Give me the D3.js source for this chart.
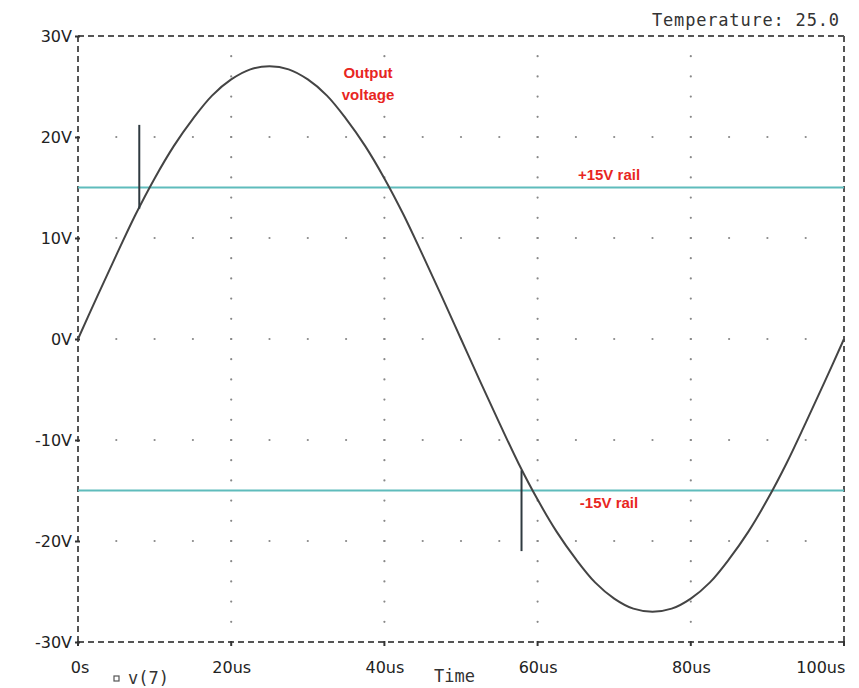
<!DOCTYPE html>
<html><head><meta charset="utf-8">
<script src="https://cdn.jsdelivr.net/npm/d3@7"></script>
<style>body{margin:0;background:#fff;}svg{display:block;}</style>
</head><body>
<svg id="c" width="859" height="688"></svg>
<script>
// Data
const timeUs = [0,2.5,5,7.5,10,12.5,15,17.5,20,22.5,25,27.5,30,32.5,35,37.5,40,42.5,45,47.5,50,52.5,55,57.5,60,62.5,65,67.5,70,72.5,75,77.5,80,82.5,85,87.5,90,92.5,95,97.5,100];
const voltage = [0,4.2,8.3,12.3,15.9,19.1,21.8,24.1,25.7,26.7,27.0,26.7,25.7,24.1,21.8,19.1,15.9,12.3,8.3,4.2,0,-4.2,-8.3,-12.3,-15.9,-19.1,-21.8,-24.1,-25.7,-26.7,-27.0,-26.7,-25.7,-24.1,-21.8,-19.1,-15.9,-12.3,-8.3,-4.2,0];
const railValues = [15, -15];
const railLabels = ["+15V rail", "-15V rail"];
const markerTimes = [8, 57.9];
const markerFrom = [12.9, -13];
const markerTo = [21.2, -21];
const xTicks = [0,20,40,60,80,100];
const xTickLabels = ["0s","20us","40us","60us","80us","100us"];
const yTicks = [30,20,10,0,-10,-20,-30];
const yTickLabels = ["30V","20V","10V","0V","-10V","-20V","-30V"];

const svg = d3.select("#c");
const x = d3.scaleLinear().domain([0,100]).range([78,844]);
const y = d3.scaleLinear().domain([-30,30]).range([642,36]);
const frameColor = "#555";

// grid dots
const g = svg.append("g").attr("fill","#888");
const minorX = d3.range(0,100.01,5);
const minorY = d3.range(-30,30.01,2);
yTicks.filter(v=>v!==30&&v!==-30).forEach(v=>{
  minorX.filter(t=>t>0&&t<100).forEach(t=>{
    g.append("circle").attr("cx",x(t)).attr("cy",y(v)).attr("r",1.1);
  });
});
xTicks.filter(t=>t>0&&t<100).forEach(t=>{
  minorY.filter(v=>v>-30&&v<30).forEach(v=>{
    g.append("circle").attr("cx",x(t)).attr("cy",y(v)).attr("r",1.1);
  });
});

// frame (dashed)
const fr = svg.append("g").attr("stroke",frameColor).attr("stroke-width",2).attr("stroke-dasharray","6,4").attr("fill","none");
fr.append("line").attr("x1",x(0)).attr("x2",x(100)).attr("y1",y(30)).attr("y2",y(30));
fr.append("line").attr("x1",x(0)).attr("x2",x(100)).attr("y1",y(-30)).attr("y2",y(-30));
fr.append("line").attr("x1",x(0)).attr("x2",x(0)).attr("y1",y(30)).attr("y2",y(-30));
fr.append("line").attr("x1",x(100)).attr("x2",x(100)).attr("y1",y(30)).attr("y2",y(-30));

// axes
const tickFont = "DejaVu Sans, sans-serif";
const yAxis = d3.axisLeft(y).tickValues(yTicks).tickFormat((d,i)=>yTickLabels[i]).tickSize(5).tickPadding(3);
const ya = svg.append("g").attr("transform",`translate(${x(0)+2},0)`).call(yAxis);
ya.select(".domain").remove();
ya.selectAll("line").attr("stroke","#333").attr("stroke-width",2);
ya.selectAll("text").attr("font-family",tickFont).attr("font-size",16).attr("fill","#222").attr("font-weight",500);

const xAxis = d3.axisBottom(x).tickValues(xTicks).tickFormat((d,i)=>xTickLabels[i]).tickSize(0).tickPadding(0);
const xa = svg.append("g").attr("transform",`translate(0,${y(-30)})`).call(xAxis);
xa.select(".domain").remove();
xa.selectAll("text").attr("font-family",tickFont).attr("font-size",16).attr("fill","#222").attr("font-weight",500).attr("dy","1.95em")
  .attr("text-anchor",(d,i)=> i===xTicks.length-1 ? "end" : "middle")
  .attr("dx",(d,i)=> i===0 ? "0.1em" : (i===xTicks.length-1 ? "0.05em" : "0"));
xTicks.forEach(t=>{
  svg.append("line").attr("x1",x(t)).attr("x2",x(t)).attr("y1",y(-30)-1).attr("y2",y(-30)+4).attr("stroke","#333").attr("stroke-width",2);
});

// rails
svg.append("g").selectAll("line").data(railValues).join("line")
  .attr("x1",x(0)).attr("x2",x(100)).attr("y1",d=>y(d)).attr("y2",d=>y(d))
  .attr("stroke","#5fbcbc").attr("stroke-width",2);

// curve
const line = d3.line().x((d,i)=>x(timeUs[i])).y(d=>y(d)).curve(d3.curveCatmullRom);
svg.append("path").datum(voltage).attr("d",line).attr("fill","none").attr("stroke","#444").attr("stroke-width",2);

// markers
markerTimes.forEach((t,i)=>{
  svg.append("line").attr("x1",x(t)).attr("x2",x(t)).attr("y1",y(markerFrom[i])).attr("y2",y(markerTo[i]))
    .attr("stroke","#2f3a40").attr("stroke-width",2);
});

// labels
const red = "#e8261f";
const lab = svg.append("g").attr("font-family","Liberation Sans, Arial, sans-serif").attr("font-weight","bold").attr("font-size",15).attr("fill",red);
lab.append("text").attr("x",368).attr("y",78).attr("text-anchor","middle").text("Output");
lab.append("text").attr("x",368).attr("y",100).attr("text-anchor","middle").text("voltage");
lab.append("text").attr("x",609).attr("y",y(railValues[0])-8).attr("text-anchor","middle").text(railLabels[0]);
lab.append("text").attr("x",609).attr("y",y(railValues[1])+17).attr("text-anchor","middle").text(railLabels[1]);

const mono = svg.append("g").attr("font-family","DejaVu Sans Mono, monospace").attr("font-size",17).attr("fill","#333");
mono.append("text").attr("x",839).attr("y",26).attr("text-anchor","end").attr("textLength",187).text("Temperature: 25.0");
mono.append("text").attr("x",434).attr("y",682).text("Time");
mono.append("text").attr("x",128).attr("y",684).text("v(7)");
svg.append("rect").attr("x",114).attr("y",676).attr("width",5).attr("height",5).attr("fill","none").attr("stroke","#555").attr("stroke-width",1.2);
</script>
</body></html>
